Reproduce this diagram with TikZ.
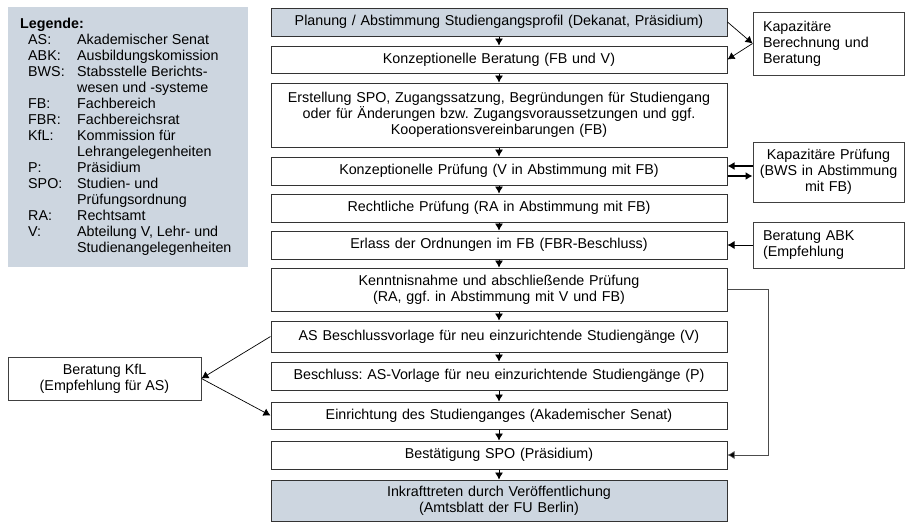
\documentclass[tikz,border=0pt]{standalone}
\usepackage{fontspec}
\setmainfont{Liberation Sans}
\usetikzlibrary{arrows.meta}
\definecolor{boxblue}{RGB}{205,214,224}
\frenchspacing

\begin{document}
\begin{tikzpicture}[x=1pt, y=-1pt,
  every node/.style={font=\fontsize{14.3}{16}\selectfont, inner sep=0pt},
  stage/.style={draw=black!80, line width=1pt, minimum width=456pt, text width=446pt, align=center},
  hilite/.style={stage, fill=boxblue},
  side/.style={draw=black!75, line width=0.9pt, minimum width=151pt},
  flow/.style={-{Latex[length=7pt,width=8pt]}, line width=0.7pt}]
\useasboundingbox (0,0) rectangle (906,523);

% Legende
\node[fill=boxblue, minimum width=240pt, minimum height=260pt, anchor=north west] (legbg) at (8,7) {};
\node[anchor=north west] (legend) at (20,16.8) {%
  \begin{tabular}{@{\hspace{8pt}}p{49pt}@{}l@{}}
  \multicolumn{2}{@{}l@{}}{\textbf{Legende:}}\\
  AS: & Akademischer Senat\\
  ABK: & Ausbildungskomission\\
  BWS: & Stabsstelle Berichts-\\
       & wesen und -systeme\\
  FB: & Fachbereich\\
  FBR: & Fachbereichsrat\\
  KfL: & Kommission für\\
       & Lehrangelegenheiten\\
  P: & Präsidium\\
  SPO: & Studien- und\\
       & Prüfungsordnung\\
  RA: & Rechtsamt\\
  V: & Abteilung V, Lehr- und\\
     & Studienangelegenheiten
  \end{tabular}};

% Ablauf
\node[hilite, minimum height=28pt] (plan) at (499,22) {Planung / Abstimmung Studiengangsprofil (Dekanat, Präsidium)};
\node[stage, minimum height=27pt] (konz) at (499,59.5) {Konzeptionelle Beratung (FB und V)};
\node[stage, minimum height=64pt] (erst) at (499,115) {Erstellung SPO, Zugangssatzung, Begründungen für Studiengang\\oder für Änderungen bzw. Zugangsvoraussetzungen und ggf.\\Kooperationsvereinbarungen (FB)};
\node[stage, minimum height=28pt] (kpruef) at (499,171) {Konzeptionelle Prüfung (V in Abstimmung mit FB)};
\node[stage, minimum height=28pt] (recht) at (499,208) {Rechtliche Prüfung (RA in Abstimmung mit FB)};
\node[stage, minimum height=28pt] (erlass) at (499,245) {Erlass der Ordnungen im FB (FBR-Beschluss)};
\node[stage, minimum height=43pt] (kennt) at (499,289.5) {Kenntnisnahme und abschließende Prüfung\\(RA, ggf. in Abstimmung mit V und FB)};
\node[stage, minimum height=31pt] (asvor) at (499,336.5) {AS Beschlussvorlage für neu einzurichtende Studiengänge (V)};
\node[stage, minimum height=28pt] (beschl) at (499,376) {Beschluss: AS-Vorlage für neu einzurichtende Studiengänge (P)};
\node[stage, minimum height=27pt] (einr) at (499,415.5) {Einrichtung des Studienganges (Akademischer Senat)};
\node[stage, minimum height=28pt] (best) at (499,455) {Bestätigung SPO (Präsidium)};
\node[hilite, minimum height=41pt] (inkraft) at (499,500.5) {Inkrafttreten durch Veröffentlichung\\(Amtsblatt der FU Berlin)};

% Beteiligte Stellen
\node[side, minimum height=63pt, text width=131pt, align=left] (kapber) at (828.5,43.5) {Kapazitäre\\Berechnung und\\Beratung};
\node[side, minimum height=60pt, text width=145pt, align=center] (kappr) at (828.5,172) {Kapazitäre Prüfung\\(BWS in Abstimmung\\mit FB)};
\node[side, minimum height=46pt, text width=131pt, align=left] (abk) at (828.5,245) {Beratung ABK\\(Empfehlung};
\node[side, minimum width=193pt, minimum height=43pt, align=center] (kfl) at (104.5,378.5) {Beratung KfL\\(Empfehlung für AS)};

\draw[flow] (plan) -- (konz);
\draw[flow] (konz) -- (erst);
\draw[flow] (erst) -- (kpruef);
\draw[flow] (kpruef) -- (recht);
\draw[flow] (recht) -- (erlass);
\draw[flow] (erlass) -- (kennt);
\draw[flow] (kennt) -- (asvor);
\draw[flow] (asvor) -- (beschl);
\draw[flow] (beschl) -- (einr);
\draw[flow] (einr) -- (best);
\draw[flow] (best) -- (inkraft);

\draw[flow] (plan.east) -- (kapber.west);
\draw[flow] (kapber.west) -- (konz.east);
\draw[flow, line width=1.3pt] ([yshift=6pt]kappr.west) -- ([yshift=5pt]kpruef.east);
\draw[flow, line width=1.3pt] ([yshift=-5pt]kpruef.east) -- ([yshift=-4pt]kappr.west);
\draw[flow] (abk) -- (erlass);
\draw[flow] (asvor.west) -- (kfl.east);
\draw[flow] (kfl.east) -- (einr.west);
\draw[-{Latex[length=7pt,width=8pt,fill=black]}, line width=0.7pt, draw=black!70] (kennt.east) -- ++(41,0) |- (best.east);
\end{tikzpicture}
\end{document}
